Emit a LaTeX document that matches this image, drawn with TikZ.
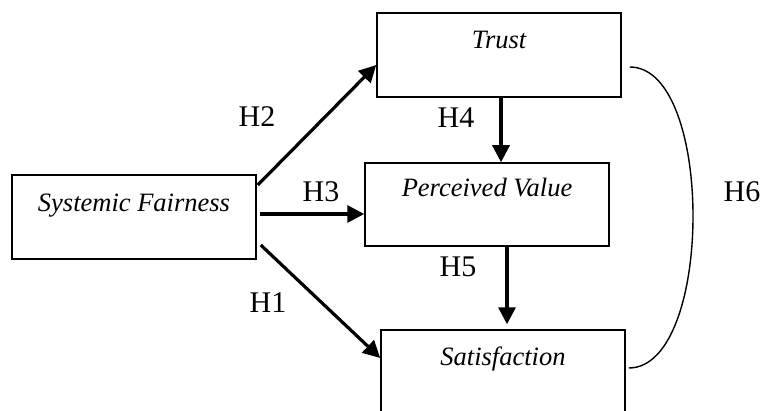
\documentclass[tikz,border=0pt]{standalone}
\usepackage{fontspec}
\setmainfont{Liberation Serif}
\usetikzlibrary{arrows.meta}
\begin{document}
\begin{tikzpicture}[x=1pt,y=1pt,
  box/.style={draw=black, line width=1.5pt, rectangle, minimum width=244pt, minimum height=84pt, inner sep=0pt},
  boxtext/.style={inner sep=0pt, anchor=base, font=\fontsize{26.5}{30}\selectfont\itshape},
  hlabel/.style={inner sep=0pt, anchor=base, font=\fontsize{30}{34}\selectfont},
  arr/.style={line width=3.2pt, -{Triangle[length=17pt,width=17pt]}},
  link/.style={line width=1.4pt}
]
\useasboundingbox (0,0) rectangle (762,410);
\clip (0,0) rectangle (762,410);
% boxes (pixel y -> 410 - y)
\node[box] (sf) at (134,193) {};
\node[box] (trust) at (499,355) {};
\node[box, minimum height=83pt] (pv) at (487,205.5) {};
\node[box] (sat) at (503,38) {};
% box texts
\node[boxtext] (sft) at ([yshift=-37pt]sf.north) {Systemic Fairness};
\node[boxtext] (trustt) at ([yshift=-36pt]trust.north) {Trust};
\node[boxtext] (pvt) at ([yshift=-34pt]pv.north) {Perceived Value};
\node[boxtext] (satt) at ([yshift=-36pt]sat.north) {Satisfaction};
% arrows
\draw[arr] ([xshift=1pt,yshift=32pt]sf.east) -- ([yshift=-10pt]trust.west);
\draw[arr] ([xshift=3pt,yshift=3pt]sf.east) -- ([yshift=-9.5pt]pv.west);
\draw[arr] ([xshift=4pt,yshift=-28pt]sf.east) -- ([yshift=14pt]sat.west);
\draw[arr] ([xshift=2pt]trust.south) -- ([xshift=14pt]pv.north);
\draw[arr] ([xshift=20pt]pv.south) -- ([xshift=4pt,yshift=5pt]sat.north);
% H6 curve
\coordinate (c6a) at ([xshift=8pt,yshift=-12pt]trust.east);
\coordinate (c6b) at ([xshift=3pt,yshift=4pt]sat.east);
\draw[link] (c6a) .. controls ([xshift=85pt]c6a) and ([xshift=85pt]c6b) .. (c6b);
% labels
\node[hlabel] (h2) at (257,283) {H2};
\node[hlabel] (h4) at (456,282) {H4};
\node[hlabel] (h3) at (321,208) {H3};
\node[hlabel] (h5) at (458,134) {H5};
\node[hlabel] (h1) at (268,98) {H1};
\node[hlabel] (h6) at (742,208) {H6};
\end{tikzpicture}
\end{document}
